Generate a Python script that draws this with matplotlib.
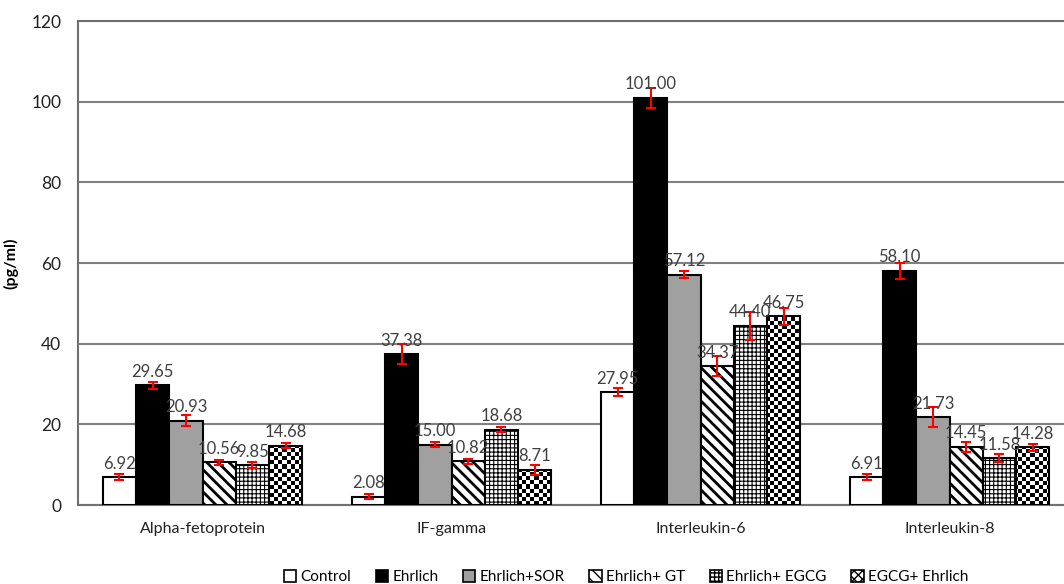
import numpy as np
import matplotlib
matplotlib.use("Agg")
import matplotlib.pyplot as plt
from matplotlib.patches import Patch

categories = ["Alpha-fetoprotein", "IF-gamma", "Interleukin-6", "Interleukin-8"]
series = ["Control", "Ehrlich", "Ehrlich+SOR", "Ehrlich+ GT", "Ehrlich+ EGCG", "EGCG+ Ehrlich"]
control = [6.92, 2.08, 27.95, 6.91]
ehrlich = [29.65, 37.38, 101.00, 58.10]
ehrlich_sor = [20.93, 15.00, 57.12, 21.73]
ehrlich_gt = [10.56, 10.82, 34.37, 14.45]
ehrlich_egcg = [9.85, 18.68, 44.40, 11.58]
egcg_ehrlich = [14.68, 8.71, 46.75, 14.28]
err_control = [0.7, 0.7, 1.0, 0.8]
err_ehrlich = [0.8, 2.5, 2.5, 2.0]
err_sor = [1.3, 0.6, 0.9, 2.5]
err_gt = [0.6, 0.6, 2.5, 1.2]
err_egcg = [0.7, 0.6, 3.5, 1.0]
err_egcg_e = [0.6, 1.3, 2.0, 0.8]
yticks = [0, 20, 40, 60, 80, 100, 120]

values = [control, ehrlich, ehrlich_sor, ehrlich_gt, ehrlich_egcg, egcg_ehrlich]
errors = [err_control, err_ehrlich, err_sor, err_gt, err_egcg, err_egcg_e]
faces = ["white", "black", "#a0a0a0", "white", "white", "white"]
hatches = [None, None, None, "\\\\\\", "++++", None]
hatch_lw = [1, 1, 1, 2.0, 0.8, 1]

plt.rcParams["font.family"] = ["Lato", "DejaVu Sans"]

fig = plt.figure(figsize=(10.64, 5.84), dpi=100)
W, H = 1064, 584
left, right, top, bottom = 78, 1074, 21, 505
ax = fig.add_axes([left / W, 1 - bottom / H, (right - left) / W, (bottom - top) / H])

x = np.arange(len(categories))
bw = 0.8 / 6
bars_all = []
for i, (vals, errs) in enumerate(zip(values, errors)):
    pos = x - 0.4 + bw * (i + 0.5)
    with plt.rc_context({"hatch.linewidth": hatch_lw[i], "hatch.color": "black"}):
        bars = ax.bar(pos, vals, width=bw, color=faces[i], edgecolor="black",
                      linewidth=1.5, hatch=hatches[i], label=series[i], zorder=3)
    bars_all.append(bars)
    ax.errorbar(pos, vals, yerr=errs, fmt="none", ecolor="red", elinewidth=1.5,
                capsize=3.5, capthick=1.5, zorder=5)
    for p, v in zip(pos, vals):
        ax.annotate(f"{v:.2f}", (p, v), xytext=(0, 4), textcoords="offset points",
                    ha="center", va="bottom", fontsize=12, color="#404040", zorder=6)

# checkerboard fill for the last series, clipped to its bars (4 px cells)
ny, nx = 121, 249
yy, xx = np.indices((ny, nx))
checker = ((yy + xx) % 2).astype(float)
for b in bars_all[5]:
    im = ax.imshow(checker, extent=(-0.5, len(categories) - 0.5, 0, 120), aspect="auto",
                   cmap="gray", vmin=0, vmax=1, interpolation="nearest", zorder=3.5)
    im.set_clip_path(b)
    b.set_facecolor("none")
    b.set_zorder(4)

ax.set_xlim(-0.5, len(categories) - 0.5)
ax.set_ylim(0, 120)
ax.set_yticks(yticks)
ax.set_xticks(x)
ax.set_xticklabels(categories, fontsize=11.5, color="#222222")
ax.tick_params(axis="y", length=0, labelsize=12.5, pad=12, labelcolor="#222222")
ax.tick_params(axis="x", length=0, pad=12)
ax.yaxis.grid(True, color="#808080", linewidth=1.5, zorder=0)
ax.set_axisbelow(True)
for s in ["left", "top", "right", "bottom"]:
    ax.spines[s].set_color("#707070")
    ax.spines[s].set_linewidth(1.5)

ax.set_ylabel("(pg/ml)", fontsize=11.5, fontweight="bold")
ax.yaxis.set_label_coords((18 - left) / (right - left), 0.5)

handles = []
for i in range(6):
    with plt.rc_context({"hatch.linewidth": 0.8}):
        handles.append(Patch(facecolor=faces[i], edgecolor="black",
                             linewidth=1.2, hatch=(hatches[i] if i != 5 else "xxxx")))
leg = fig.legend(handles, series, loc="center", bbox_to_anchor=(626 / W, 1 - 577 / H),
                 ncol=6, frameon=False, fontsize=11, handlelength=0.8, handleheight=0.8,
                 handletextpad=0.3, columnspacing=1.6)

fig.savefig("out.png", dpi=100)
